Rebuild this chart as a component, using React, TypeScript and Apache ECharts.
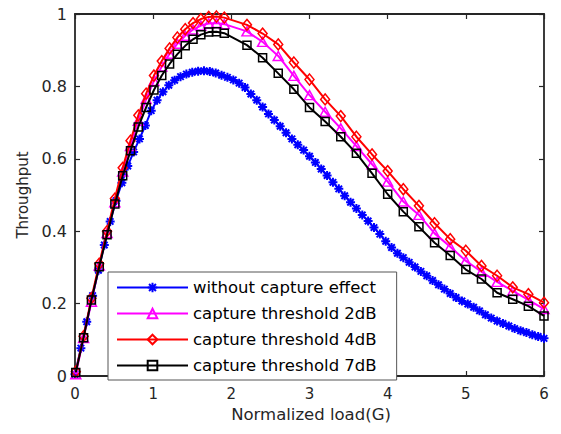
import React, { useEffect, useRef } from "react";
import * as echarts from "echarts";

// x positions of the markers (Normalized load G)
const gMain = [0.01, 0.11, 0.21, 0.31, 0.41, 0.51, 0.61, 0.71, 0.81, 0.91, 1.01, 1.11, 1.21, 1.31, 1.41, 1.51, 1.61, 1.71, 1.81, 1.91,
  2.2, 2.4, 2.6, 2.8, 3.0, 3.2, 3.4, 3.6, 3.8, 4.0, 4.2, 4.4, 4.6, 4.8, 5.0, 5.2, 5.4, 5.6, 5.8, 6.0];
const gBlue = [0, 0.075, 0.15, 0.225, 0.3, 0.375, 0.45, 0.525, 0.6, 0.675, 0.75, 0.825, 0.9, 0.975, 1.05, 1.125, 1.2, 1.275, 1.35, 1.425,
  1.5, 1.575, 1.65, 1.725, 1.8, 1.875, 1.95, 2.025, 2.1, 2.175, 2.25, 2.325, 2.4, 2.475, 2.55, 2.625, 2.7, 2.775, 2.85, 2.925,
  3, 3.075, 3.15, 3.225, 3.3, 3.375, 3.45, 3.525, 3.6, 3.675, 3.75, 3.825, 3.9, 3.975, 4.05, 4.125, 4.2, 4.275, 4.35, 4.425,
  4.5, 4.575, 4.65, 4.725, 4.8, 4.875, 4.95, 5.025, 5.1, 5.175, 5.25, 5.325, 5.4, 5.475, 5.55, 5.625, 5.7, 5.775, 5.85, 5.925, 6];

// throughput values
const withoutCapture = [0.005, 0.077, 0.15, 0.222, 0.292, 0.362, 0.427, 0.484, 0.534, 0.58,
  0.619, 0.655, 0.692, 0.733, 0.762, 0.785, 0.803, 0.817, 0.827, 0.834,
  0.839, 0.842, 0.843, 0.841, 0.837, 0.831, 0.825, 0.818, 0.809, 0.797,
  0.779, 0.762, 0.743, 0.724, 0.707, 0.69, 0.672, 0.655, 0.639, 0.624,
  0.607, 0.59, 0.572, 0.554, 0.535, 0.517, 0.498, 0.48, 0.463, 0.445,
  0.428, 0.41, 0.392, 0.372, 0.355, 0.339, 0.327, 0.314, 0.301, 0.289,
  0.277, 0.264, 0.252, 0.24, 0.228, 0.217, 0.207, 0.199, 0.19, 0.18,
  0.169, 0.16, 0.152, 0.145, 0.138, 0.131, 0.125, 0.12, 0.114, 0.109, 0.104];
const threshold2dB = [0.005, 0.105, 0.205, 0.305, 0.395, 0.48, 0.565, 0.635, 0.705, 0.765, 0.815, 0.855, 0.89, 0.918, 0.94, 0.957, 0.968, 0.974, 0.975, 0.972,
  0.952, 0.923, 0.884, 0.829, 0.776, 0.73, 0.684, 0.635, 0.585, 0.537, 0.482, 0.445, 0.394, 0.357, 0.318, 0.288, 0.26, 0.235, 0.21, 0.185];
const threshold4dB = [0.012, 0.11, 0.215, 0.31, 0.4, 0.49, 0.575, 0.65, 0.72, 0.78, 0.83, 0.87, 0.905, 0.935, 0.958, 0.975, 0.986, 0.992, 0.993, 0.99,
  0.97, 0.946, 0.916, 0.866, 0.819, 0.764, 0.718, 0.661, 0.612, 0.566, 0.516, 0.47, 0.422, 0.378, 0.346, 0.304, 0.277, 0.245, 0.226, 0.2025];
const threshold7dB = [0.01, 0.106, 0.21, 0.302, 0.39, 0.475, 0.553, 0.622, 0.688, 0.742, 0.79, 0.83, 0.862, 0.889, 0.912, 0.93, 0.943, 0.95, 0.951, 0.947,
  0.914, 0.879, 0.836, 0.792, 0.742, 0.703, 0.661, 0.615, 0.56, 0.502, 0.454, 0.412, 0.368, 0.333, 0.294, 0.268, 0.23, 0.212, 0.193, 0.166];

const seriesNames = ["without capture effect", "capture threshold 2dB", "capture threshold 4dB", "capture threshold 7dB"];
const xTicks = { min: 0, max: 6, interval: 1 };
const yTicks = { min: 0, max: 1, interval: 0.2 };
const xName = "Normalized load(G)";
const yName = "Throughput";

const FONT = "DejaVu Sans";
const AX = "#262626";

function zip(xs: number[], ys: number[]) {
  const n = Math.min(xs.length, ys.length);
  const out: number[][] = [];
  for (let i = 0; i < n; i++) out.push([xs[i], ys[i]]);
  return out;
}

const asterisk = "path://M0,-5L0,5M-5,0L5,0M-3.6,-3.6L3.6,3.6M-3.6,3.6L3.6,-3.6";

export default function App() {
  const ref = useRef<HTMLDivElement>(null);
  useEffect(() => {
    if (!ref.current) return;
    const chart = echarts.init(ref.current, undefined, { renderer: "svg" });
    const axisCommon = {
      type: "value" as const,
      axisLine: { show: true, onZero: false, lineStyle: { color: AX, width: 1.8 } },
      axisTick: { show: true, inside: true, length: 5, lineStyle: { color: AX, width: 1.2 } },
      splitLine: { show: false },
    };
    const mkSeries = (name: string, data: number[][], color: string, symbol: string, size: any, hollow: boolean, z: number, bw: number) => ({
      type: "line",
      name,
      data,
      symbol,
      symbolSize: size,
      showSymbol: true,
      showAllSymbol: true,
      z,
      lineStyle: { color, width: 2 },
      itemStyle: { color: hollow ? "rgba(0,0,0,0)" : color, borderColor: color, borderWidth: bw },
      emphasis: { disabled: true },
    });
    chart.setOption({
      animation: false,
      grid: { left: 75, right: 17, top: 14, bottom: 58 },
      xAxis: [
        { ...axisCommon, position: "bottom", ...xTicks,
          axisLabel: { color: AX, fontSize: 15, fontFamily: FONT, margin: 10 } },
        { ...axisCommon, position: "top", ...xTicks, axisLabel: { show: false } },
      ],
      yAxis: [
        { ...axisCommon, position: "left", ...yTicks,
          axisLabel: { color: AX, fontSize: 16, fontFamily: FONT, margin: 8,
            formatter: (v: number) => String(Number(v.toFixed(1))) } },
        { ...axisCommon, position: "right", ...yTicks, axisLabel: { show: false } },
      ],
      legend: {
        orient: "vertical",
        left: 108,
        top: 272,
        itemWidth: 71,
        itemHeight: 12,
        itemGap: 9,
        padding: [7, 20, 6, 8],
        borderColor: "#555",
        borderWidth: 1,
        backgroundColor: "#fff",
        textStyle: { fontSize: 16.5, fontFamily: FONT, color: "#000" },
        data: seriesNames,
      },
      graphic: [
        { type: "text", x: 311, y: 414, style: { text: xName, fontSize: 16.5, fontFamily: FONT, fill: AX, textAlign: "center", textVerticalAlign: "middle" } },
        { type: "text", x: 23, y: 195, rotation: Math.PI / 2, style: { text: yName, fontSize: 15, fontFamily: FONT, fill: AX, textAlign: "center", textVerticalAlign: "middle" } },
      ],
      series: [
        mkSeries(seriesNames[0], zip(gBlue, withoutCapture), "#0000ff", asterisk, 9, false, 2, 2),
        mkSeries(seriesNames[1], zip(gMain, threshold2dB), "#ff00ff", "triangle", [10, 9], true, 3, 1.5),
        mkSeries(seriesNames[2], zip(gMain, threshold4dB), "#ff0000", "diamond", [9, 11], true, 4, 1.5),
        mkSeries(seriesNames[3], zip(gMain, threshold7dB), "#000000", "rect", 8, true, 5, 1.5),
      ],
    });
    return () => chart.dispose();
  }, []);
  return <div ref={ref} style={{ position: "fixed", left: 0, top: 0, width: 561, height: 434, background: "#fff" }} />;
}
